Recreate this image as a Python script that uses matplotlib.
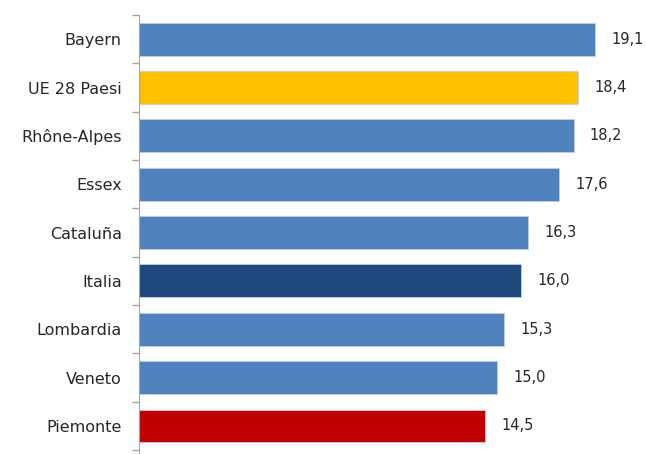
import matplotlib.pyplot as plt
import numpy as np

regions = ["Bayern", "UE 28 Paesi", "Rhône-Alpes", "Essex", "Cataluña",
           "Italia", "Lombardia", "Veneto", "Piemonte"]
values = [19.1, 18.4, 18.2, 17.6, 16.3, 16.0, 15.3, 15.0, 14.5]
colors = ["#4F81BD", "#FFC000", "#4F81BD", "#4F81BD", "#4F81BD",
          "#1F497D", "#4F81BD", "#4F81BD", "#C00000"]

plt.rcParams['font.family'] = ['DejaVu Sans']

fig = plt.figure(figsize=(6.46, 4.54), dpi=100)
ax = fig.add_axes([138.5 / 646, 0.0, 502 / 646, (454 - 15) / 454])

y = np.arange(len(regions))
ax.barh(y, values, height=0.68, color=colors, edgecolor="#BFD0E6", linewidth=0.6)
ax.set_ylim(len(regions) - 0.5 + 0.08, -0.5)
ax.set_xlim(0, 21)

for yi, v in zip(y, values):
    ax.annotate(f"{v:.1f}".replace(".", ","), (v, yi), xytext=(11.5, 0),
                textcoords="offset points", va="center", ha="left",
                fontsize=10.5, color="#262626")

ax.set_yticks(y)
ax.set_yticklabels(regions, fontsize=11.5, color="#262626")
ax.set_yticks(np.arange(-0.5, len(regions), 1), minor=True)
ax.tick_params(axis="y", which="major", length=0, pad=12)
ax.tick_params(axis="y", which="minor", length=5, color="#A6A6A6", width=1)
ax.set_xticks([])
for s in ["top", "right", "bottom"]:
    ax.spines[s].set_visible(False)
ax.spines["left"].set_color("#A6A6A6")

fig.savefig("out.png", dpi=100)
